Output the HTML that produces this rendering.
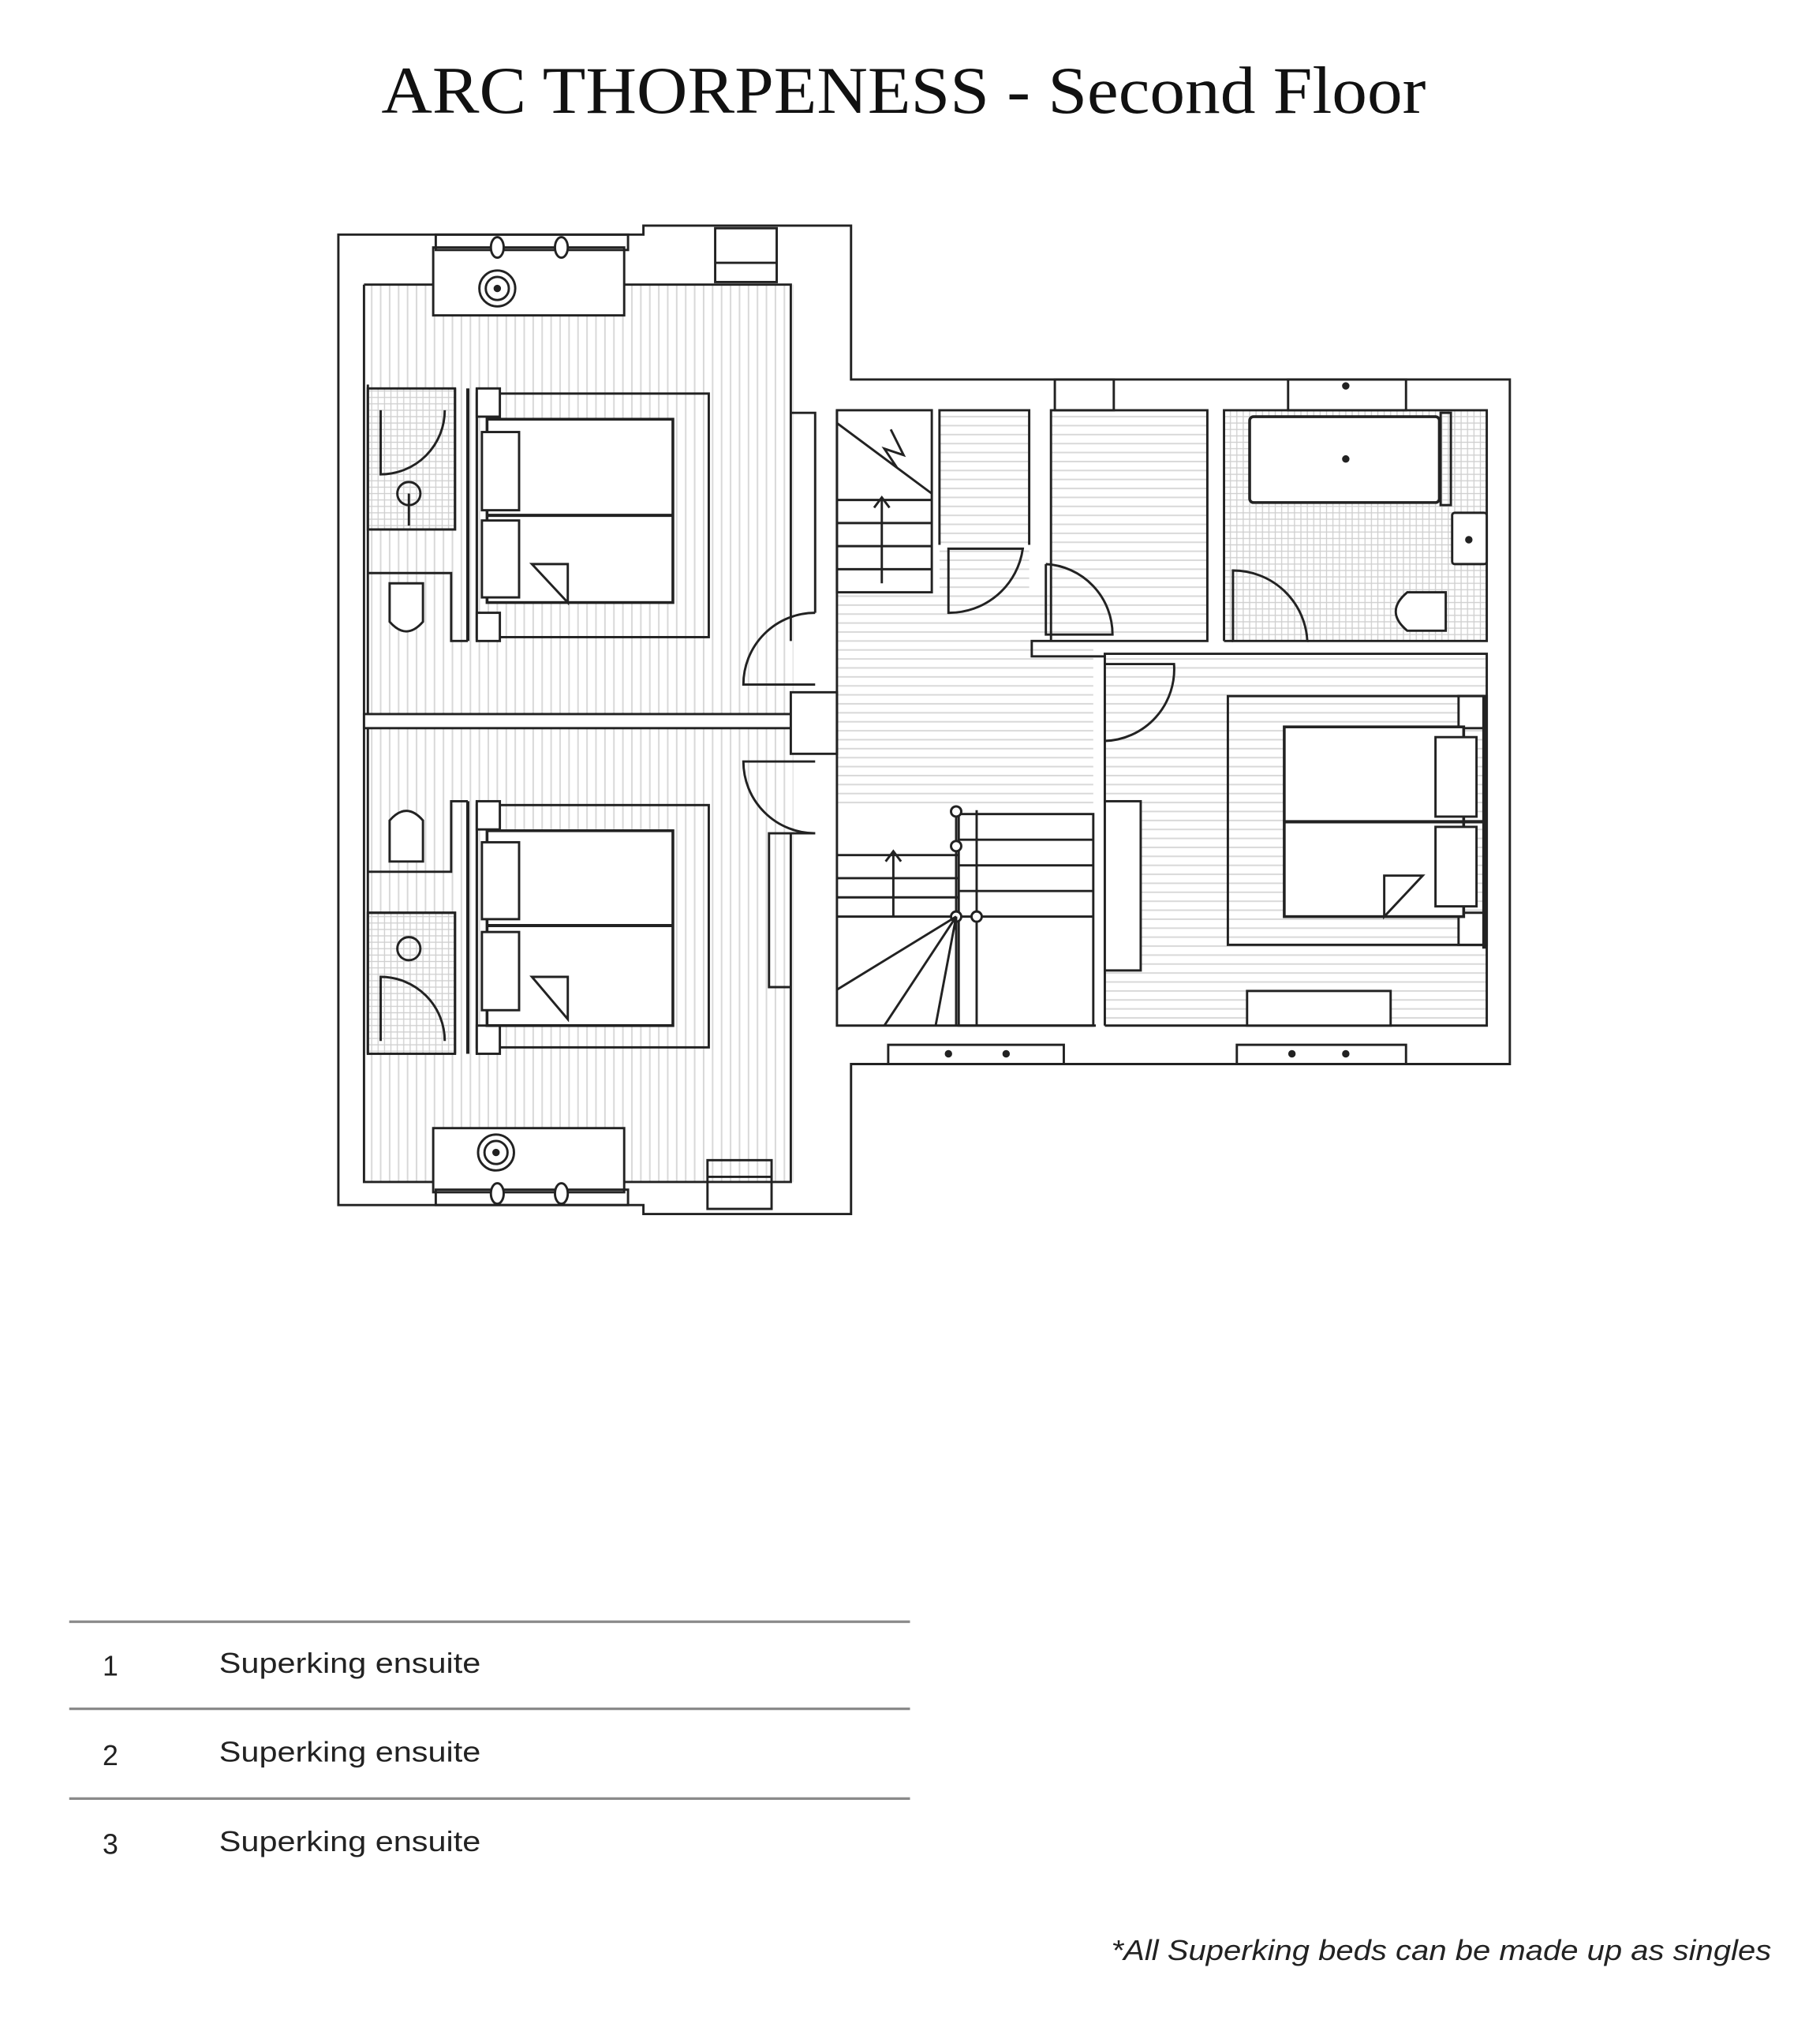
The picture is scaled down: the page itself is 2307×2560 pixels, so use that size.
<!DOCTYPE html>
<html><head><meta charset="utf-8"><style>html,body{margin:0;padding:0;background:#fff}svg{display:block}</style></head>
<body>
<svg width="2307" height="2560" viewBox="0 0 1420 1575.7" xmlns="http://www.w3.org/2000/svg">
<defs>
<pattern id="vh" width="7" height="7" patternUnits="userSpaceOnUse"><rect width="7" height="7" fill="#fff"/><line x1="3" y1="0" x2="3" y2="7" stroke="#d8d8d8" stroke-width="1.2"/></pattern>
<pattern id="hh" width="7" height="7" patternUnits="userSpaceOnUse"><rect width="7" height="7" fill="#fff"/><line x1="0" y1="3" x2="7" y2="3" stroke="#d8d8d8" stroke-width="1.2"/></pattern>
<pattern id="tile" width="5" height="5" patternUnits="userSpaceOnUse"><rect width="5" height="5" fill="#fff"/><rect width="5" height="5" fill="none" stroke="#cfcfcf" stroke-width="0.8"/></pattern>
</defs>
<rect width="1420" height="1576" fill="#fff"/>
<text x="705" y="88" text-anchor="middle" font-family="Liberation Serif, serif" font-size="52" textLength="815" lengthAdjust="spacingAndGlyphs" fill="#111">ARC THORPENESS - Second Floor</text>

<g fill="none" stroke="#222" stroke-width="1.8">
<!-- hatched floors -->
<rect x="284" y="222" width="335" height="335" fill="url(#vh)" stroke="none"/>
<rect x="284" y="568" width="335" height="354" fill="url(#vh)" stroke="none"/>
<rect x="653" y="462" width="200" height="170" fill="url(#hh)" stroke="none"/>
<rect x="733" y="320" width="70" height="142" fill="url(#hh)" stroke="none"/>
<rect x="820" y="320" width="122" height="180" fill="url(#hh)" stroke="none"/>
<rect x="862" y="510" width="298" height="290" fill="url(#hh)" stroke="none"/>
<rect x="955" y="320" width="205" height="180" fill="url(#tile)" stroke="none"/>
<rect x="287" y="303" width="68" height="110" fill="url(#tile)"/>
<rect x="287" y="712" width="68" height="110" fill="url(#tile)"/>

<!-- outer walls -->
<path d="M264 183 H502 V176 H664 V296 H1178 V830 H664 V947 H502 V940 H264 Z"/>
<path d="M284 222 H338 M487 222 H617 V500 M617 650 V922 H487 M338 922 H284 V222"/>
<!-- left wing top window/desk -->
<rect x="338" y="193" width="149" height="53" fill="#fff"/>
<circle cx="388" cy="225" r="14"/><circle cx="388" cy="225" r="9"/><circle cx="388" cy="225" r="2" fill="#222"/>
<rect x="340" y="183" width="150" height="12"/>
<ellipse cx="388" cy="193" rx="5" ry="8" fill="#fff"/><ellipse cx="438" cy="193" rx="5" ry="8" fill="#fff"/>
<rect x="558" y="178" width="48" height="42"/><line x1="558" y1="205" x2="606" y2="205"/>
<!-- bottom desk -->
<rect x="338" y="880" width="149" height="50" fill="#fff"/>
<circle cx="387" cy="899" r="14"/><circle cx="387" cy="899" r="9"/><circle cx="387" cy="899" r="2" fill="#222"/>
<rect x="340" y="928" width="150" height="12"/>
<ellipse cx="388" cy="931" rx="5" ry="8" fill="#fff"/><ellipse cx="438" cy="931" rx="5" ry="8" fill="#fff"/>
<rect x="552" y="905" width="50" height="38"/><line x1="552" y1="918" x2="602" y2="918"/>

<!-- divider between rooms -->
<rect x="284" y="557" width="335" height="11" fill="#fff"/>
<!-- headboard walls -->
<line x1="365" y1="303" x2="365" y2="500" stroke-width="2.5"/><line x1="372" y1="303" x2="372" y2="500"/>
<line x1="365" y1="625" x2="365" y2="822" stroke-width="2.5"/><line x1="372" y1="625" x2="372" y2="822"/>
<!-- top bedroom -->
<rect x="372" y="307" width="181" height="190"/>
<rect x="372" y="303" width="18" height="22" fill="#fff"/><rect x="372" y="478" width="18" height="22" fill="#fff"/>
<rect x="380" y="327" width="145" height="143" fill="#fff" stroke-width="2.2"/>
<line x1="380" y1="402" x2="525" y2="402" stroke-width="2.5"/>
<rect x="376" y="337" width="29" height="61" fill="#fff"/><rect x="376" y="406" width="29" height="60" fill="#fff"/>
<path d="M415 440 H443 V470 Z"/>
<!-- top ensuite -->
<path d="M287 413 H355 V303" /><path d="M347 320 A50 50 0 0 1 297 370 V320"/>
<circle cx="319" cy="385" r="9"/><line x1="319" y1="385" x2="319" y2="410"/>
<path d="M287 447 H352 V500 H365"/>
<path d="M304 455 H330 V485 Q317 500 304 485 Z" fill="#fff"/>
<line x1="287" y1="300" x2="287" y2="557"/>
<!-- bottom bedroom -->
<rect x="372" y="628" width="181" height="189"/>
<rect x="372" y="625" width="18" height="22" fill="#fff"/><rect x="372" y="800" width="18" height="22" fill="#fff"/>
<rect x="380" y="648" width="145" height="152" fill="#fff" stroke-width="2.2"/>
<line x1="380" y1="722" x2="525" y2="722" stroke-width="2.5"/>
<rect x="376" y="657" width="29" height="60" fill="#fff"/><rect x="376" y="727" width="29" height="61" fill="#fff"/>
<path d="M415 762 H443 V795 Z"/>
<!-- bottom ensuite -->
<path d="M287 712 H355 V822"/><path d="M347 812 A50 50 0 0 0 297 762 V812"/>
<circle cx="319" cy="740" r="9"/>
<path d="M287 680 H352 V625 H365"/>
<path d="M304 640 Q317 625 330 640 V672 H304 Z" fill="#fff"/>
<line x1="287" y1="568" x2="287" y2="822"/>
<!-- left wing doors to landing -->
<path d="M636 478 A56 56 0 0 0 580 534 H636"/>
<path d="M636 650 A56 56 0 0 1 580 594 H636"/>
<rect x="617" y="540" width="36" height="48" fill="#fff"/>
<path d="M617 322 H636 V478 M636 650 H600 V770 H617"/>

<!-- central/right -->
<path d="M653 320 V800 H855 M862 800 H1160 V510 H862 V800"/>
<!-- top stair -->
<rect x="653" y="320" width="74" height="142"/>
<path d="M653 330 L727 385 M695 335 L705 355 L690 350 L700 365"/>
<line x1="653" y1="390" x2="727" y2="390"/><line x1="653" y1="408" x2="727" y2="408"/><line x1="653" y1="426" x2="727" y2="426"/><line x1="653" y1="444" x2="727" y2="444"/>
<line x1="688" y1="455" x2="688" y2="388"/><path d="M682 396 L688 388 L694 396"/>
<!-- cupboard -->
<path d="M733 425 V320 H803 V425"/>
<path d="M740 428 V478 A58 58 0 0 0 798 428 Z"/>
<!-- room next to bath -->
<path d="M820 500 V320 H942 V500 H805 V512 H862"/>
<path d="M816 440 V495 H868 A55 55 0 0 0 816 440"/>
<!-- bathroom -->
<path d="M955 500 V320 H1160 V500 H1020 M955 500 H962"/>
<rect x="975" y="325" width="148" height="67" rx="3" fill="#fff" stroke-width="2.2"/><circle cx="1050" cy="358" r="2" fill="#222"/>
<rect x="1124" y="322" width="8" height="72"/>
<rect x="1133" y="400" width="27" height="40" rx="2" fill="#fff"/><circle cx="1146" cy="421" r="2" fill="#222"/>
<path d="M1128 462 H1098 Q1080 477 1098 492 H1128 Z" fill="#fff"/>
<path d="M962 445 A58 58 0 0 1 1020 500 H962 Z"/>
<!-- bedroom door -->
<path d="M862 518 H916 A56 56 0 0 1 862 578"/>
<!-- lower stair -->
<rect x="748" y="635" width="105" height="165"/>
<line x1="748" y1="655" x2="853" y2="655"/><line x1="748" y1="675" x2="853" y2="675"/><line x1="748" y1="695" x2="853" y2="695"/><line x1="653" y1="667" x2="748" y2="667"/><line x1="653" y1="685" x2="748" y2="685"/><line x1="653" y1="700" x2="748" y2="700"/><line x1="653" y1="715" x2="853" y2="715"/>
<line x1="746" y1="632" x2="746" y2="715"/><line x1="762" y1="632" x2="762" y2="800"/>
<circle cx="746" cy="633" r="4" fill="#fff"/><circle cx="746" cy="660" r="4" fill="#fff"/><circle cx="746" cy="715" r="4" fill="#fff"/><circle cx="762" cy="715" r="4" fill="#fff"/>
<path d="M746 715 L653 772 M746 715 L690 800 M746 715 L730 800 M746 715 V800"/>
<line x1="697" y1="715" x2="697" y2="665"/><path d="M691 672 L697 664 L703 672"/>
<!-- right bedroom -->
<rect x="958" y="543" width="202" height="194"/>
<rect x="1138" y="543" width="20" height="25" fill="#fff"/><rect x="1138" y="712" width="20" height="25" fill="#fff"/>
<line x1="1158" y1="543" x2="1158" y2="740" stroke-width="3"/>
<rect x="1002" y="567" width="140" height="148" fill="#fff" stroke-width="2.2"/>
<line x1="1002" y1="641" x2="1158" y2="641" stroke-width="2.5"/>
<rect x="1120" y="575" width="32" height="62" fill="#fff"/><rect x="1120" y="645" width="32" height="62" fill="#fff"/>
<path d="M1080 683 H1110 L1080 715 Z"/>
<rect x="862" y="625" width="28" height="132" fill="#fff"/>
<rect x="973" y="773" width="112" height="27" fill="#fff"/>
<!-- windows -->
<rect x="823" y="296" width="46" height="24"/><rect x="1005" y="296" width="92" height="24"/><circle cx="1050" cy="301" r="2" fill="#222"/>
<rect x="693" y="815" width="137" height="15"/><circle cx="740" cy="822" r="2" fill="#222"/><circle cx="785" cy="822" r="2" fill="#222"/>
<rect x="965" y="815" width="132" height="15"/><circle cx="1008" cy="822" r="2" fill="#222"/><circle cx="1050" cy="822" r="2" fill="#222"/>
<line x1="830" y1="830" x2="965" y2="830"/>
</g>

<!-- legend -->
<g stroke="#8a8a8a" stroke-width="2">
<line x1="54" y1="1265" x2="710" y2="1265"/><line x1="54" y1="1333" x2="710" y2="1333"/><line x1="54" y1="1403" x2="710" y2="1403"/>
</g>
<g font-family="Liberation Sans, sans-serif" font-size="22" fill="#222">
<text x="80" y="1307">1</text><text x="171" y="1305" textLength="204" lengthAdjust="spacingAndGlyphs">Superking ensuite</text>
<text x="80" y="1377">2</text><text x="171" y="1374" textLength="204" lengthAdjust="spacingAndGlyphs">Superking ensuite</text>
<text x="80" y="1446">3</text><text x="171" y="1444" textLength="204" lengthAdjust="spacingAndGlyphs">Superking ensuite</text>
<text x="1382" y="1529" text-anchor="end" font-style="italic" textLength="515" lengthAdjust="spacingAndGlyphs">*All Superking beds can be made up as singles</text>
</g>
</svg>
</body></html>
